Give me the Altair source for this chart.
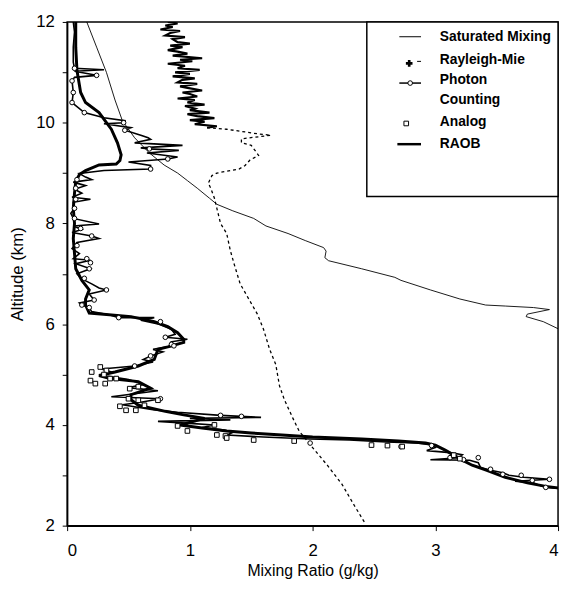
import altair as alt
import pandas as pd

# ---------------- data (altitude km, mixing ratio g/kg) ----------------
sat_alt = [12.0, 11.5, 11.0, 10.45, 10.04, 9.7, 9.4, 9.16, 9.0, 8.85, 8.7, 8.5, 8.38, 8.25, 8.1,
           7.95, 7.8, 7.66, 7.52, 7.45, 7.32, 7.26, 7.1, 6.93, 6.87, 6.68, 6.5, 6.38, 6.36, 6.33,
           6.29, 6.2, 6.15, 6.05, 5.91]
sat_mr = [0.16, 0.24, 0.32, 0.39, 0.45, 0.55, 0.67, 0.79, 0.9, 0.98, 1.06, 1.16, 1.22, 1.35, 1.52,
          1.62, 1.8, 1.94, 2.09, 2.11, 2.1, 2.13, 2.4, 2.67, 2.72, 2.96, 3.2, 3.41, 3.57, 3.8,
          3.93, 3.75, 3.74, 3.88, 4.0]

# Rayleigh-Mie: noisy upper band and sparse lower profile
rmb_alt = [12.0, 11.97, 11.93, 11.9, 11.85, 11.82, 11.78, 11.73, 11.7, 11.66, 11.6, 11.57, 11.53,
           11.5, 11.44, 11.41, 11.37, 11.33, 11.28, 11.25, 11.22, 11.17, 11.13, 11.08, 11.05, 11.0,
           10.97, 10.92, 10.88, 10.85, 10.8, 10.77, 10.72, 10.69, 10.64, 10.6, 10.57, 10.52, 10.48,
           10.45, 10.4, 10.36, 10.33, 10.28, 10.25, 10.2, 10.17, 10.13, 10.09, 10.05, 10.02, 9.97,
           9.93, 9.9]
rmb_mr = [0.82, 0.90, 0.80, 0.86, 0.76, 0.92, 0.84, 0.80, 0.96, 0.86, 0.90, 1.00, 0.84,
          0.94, 0.82, 0.90, 0.98, 0.86, 1.10, 0.92, 1.02, 0.82, 0.96, 0.90, 1.08, 0.88,
          1.00, 0.86, 1.04, 0.94, 0.90, 1.06, 0.92, 0.98, 1.10, 0.94, 1.00, 1.06, 0.90,
          1.04, 0.98, 1.12, 0.96, 1.04, 1.00, 1.16, 0.98, 1.06, 1.20, 1.00, 1.12, 1.04,
          1.22, 1.14]
rml_alt = [9.9, 9.87, 9.78, 9.75, 9.68, 9.6, 9.55, 9.42, 9.35, 9.26, 9.15, 9.08, 9.0, 8.95, 8.8,
           8.7, 8.5, 8.3, 8.0, 7.8, 7.46, 7.2, 6.8, 6.5, 6.2, 5.9, 5.5, 5.2, 4.78, 4.5, 4.13, 3.88,
           3.55, 3.2, 2.82, 2.4, 2.04]
rml_mr = [1.14, 1.3, 1.55, 1.66, 1.42, 1.42, 1.5, 1.54, 1.56, 1.49, 1.45, 1.4, 1.22, 1.18, 1.15,
          1.17, 1.2, 1.22, 1.25, 1.3, 1.33, 1.36, 1.41, 1.48, 1.55, 1.6, 1.65, 1.7, 1.73, 1.77, 1.84,
          1.89, 2.0, 2.12, 2.24, 2.34, 2.43]

raob_alt = [12.0, 11.5, 11.04, 10.6, 10.4, 10.2, 9.87, 9.6, 9.36, 9.25, 9.18, 9.16, 9.05, 8.97, 8.83,
            8.6, 8.3, 8.0, 7.7, 7.4, 7.1, 6.87, 6.68, 6.5, 6.38, 6.22, 6.15, 6.05, 5.95, 5.83, 5.7,
            5.64, 5.55, 5.5, 5.3, 5.17, 5.05, 4.98, 4.92, 4.86, 4.73, 4.6, 4.5, 4.39, 4.27, 4.2, 4.13,
            4.05, 4.0, 3.94, 3.88, 3.84, 3.8, 3.76, 3.72, 3.68, 3.64, 3.6, 3.5, 3.4, 3.3, 3.2, 3.1,
            2.96, 2.85, 2.78, 2.75]
raob_mr = [0.07, 0.07, 0.08, 0.11, 0.15, 0.26, 0.36, 0.41, 0.44, 0.43, 0.40, 0.26, 0.15, 0.10, 0.07,
           0.06, 0.05, 0.06, 0.05, 0.06, 0.07, 0.12, 0.18, 0.15, 0.15, 0.18, 0.52, 0.71, 0.82, 0.90, 0.95,
           0.95, 0.82, 0.74, 0.71, 0.58, 0.39, 0.26, 0.35, 0.58, 0.68, 0.52, 0.52, 0.58, 0.80, 0.95, 1.12,
           1.0, 0.92, 1.1, 1.3, 1.5, 1.75, 2.0, 2.4, 2.7, 2.92, 3.0, 3.08, 3.15, 3.22, 3.3, 3.42,
           3.57, 3.75, 3.9, 4.0]

pc_alt = [12.0, 11.8, 11.5, 11.2, 11.08, 11.05, 11.02, 10.94, 10.9, 10.83, 10.6, 10.4, 10.2, 10.1,
          10.04, 10.0, 9.98, 9.9, 9.85, 9.75, 9.7, 9.67, 9.6, 9.55, 9.5, 9.48, 9.45, 9.4, 9.32, 9.28,
          9.22, 9.15, 9.08, 9.05, 8.99, 8.92, 8.87, 8.82, 8.75, 8.68, 8.6, 8.52, 8.48, 8.42, 8.3, 8.2,
          8.1, 7.99, 7.95, 7.88, 7.82, 7.75, 7.7, 7.62, 7.5, 7.4, 7.3, 7.27, 7.2, 7.1, 7.0, 6.9, 6.8,
          6.72, 6.68, 6.6, 6.48, 6.42, 6.38, 6.33, 6.25, 6.18, 6.13, 6.13, 6.08, 6.0, 5.9, 5.8, 5.74,
          5.7, 5.65, 5.57, 5.5, 5.45, 5.37, 5.3, 5.25, 5.17, 5.11, 5.05, 4.98, 4.9, 4.8, 4.74, 4.68,
          4.62, 4.56, 4.52, 4.45, 4.4, 4.36, 4.3, 4.25, 4.19, 4.15, 4.13, 4.1, 4.07, 4.03, 4.0, 3.95,
          3.9, 3.85, 3.8, 3.76, 3.72, 3.7, 3.66, 3.64, 3.6, 3.55, 3.49, 3.45, 3.41, 3.35, 3.31, 3.3,
          3.25, 3.15, 3.1, 3.05, 3.0, 2.96, 2.92, 2.88, 2.85, 2.8, 2.76, 2.74]
pc_mr = [0.05, 0.06, 0.05, 0.05, 0.06, 0.30, 0.06, 0.24, 0.06, 0.04, 0.05, 0.04, 0.14, 0.3,
         0.47, 0.46, 0.3, 0.52, 0.47, 0.6, 0.66, 0.68, 0.55, 0.94, 0.6, 0.67, 0.91, 0.65, 0.9, 0.82,
         0.5, 0.68, 0.68, 0.3, 0.1, 0.15, 0.2, 0.05, 0.15, 0.06, 0.12, 0.04, 0.19, 0.05, 0.06, 0.03,
         0.05, 0.26, 0.05, 0.12, 0.04, 0.2, 0.26, 0.08, 0.04, 0.1, 0.05, 0.19, 0.07, 0.19, 0.08, 0.12, 0.2,
         0.26, 0.32, 0.18, 0.22, 0.1, 0.12, 0.18, 0.2, 0.35, 0.42, 0.71, 0.6, 0.75, 0.85, 0.88, 0.8,
         0.98, 0.85, 0.87, 0.7, 0.78, 0.68, 0.62, 0.7, 0.55, 0.28, 0.36, 0.3, 0.5, 0.62, 0.5, 0.74,
         0.55, 0.36, 0.76, 0.6, 0.45, 0.55, 0.7, 0.9, 1.25, 1.58, 1.0, 1.33, 0.74, 1.0, 1.2, 1.1,
         1.28, 1.35, 1.3, 1.6, 1.98, 2.3, 2.6, 2.85, 2.97, 3.0, 2.93, 3.12, 3.22, 3.19, 2.96, 3.28,
         3.35, 3.37, 3.45, 3.55, 3.6, 3.72, 3.93, 3.65, 3.8, 3.85, 3.9, 4.0]

pcpt_alt = [11.08, 10.94, 10.83, 10.6, 10.4, 10.2, 10.0, 9.85, 9.48, 9.28, 9.08, 8.87, 8.7, 8.48,
            8.3, 8.1, 7.9, 7.75, 7.56, 7.3, 7.22, 7.1, 6.91, 6.68, 6.48, 6.38, 6.33, 6.13, 6.05,
            5.74, 5.6, 5.57, 5.37, 5.17, 4.52, 4.19, 4.17, 3.64, 3.57, 3.59, 3.35, 3.31, 3.35,
            3.12, 3.02, 3.0, 2.9, 2.92, 2.76]
pcpt_mr = [0.06, 0.24, 0.04, 0.05, 0.04, 0.14, 0.46, 0.47, 0.67, 0.82, 0.68, 0.08, 0.07, 0.07,
           0.06, 0.06, 0.11, 0.2, 0.08, 0.16, 0.19, 0.18, 0.14, 0.32, 0.22, 0.12, 0.18, 0.42, 0.76,
           0.8, 0.85, 0.87, 0.68, 0.55, 0.76, 1.25, 1.42, 1.98, 2.72, 2.97, 3.12, 3.23, 3.35,
           3.45, 3.55, 3.7, 3.79, 3.93, 3.9]

an_alt = [5.15, 5.08, 5.05, 5.0, 4.92, 4.92, 4.88, 4.82, 4.82, 4.76, 4.72, 4.52, 4.49, 4.49,
          4.39, 4.37, 4.29, 4.29, 3.98, 3.88, 4.0, 3.8, 3.78, 3.74, 3.7, 3.68, 3.6, 3.59, 3.57,
          3.4, 3.33]
an_mr = [0.27, 0.32, 0.2, 0.3, 0.35, 0.4, 0.19, 0.23, 0.31, 0.58, 0.51, 0.5, 0.58, 0.74,
         0.63, 0.43, 0.48, 0.56, 0.9, 0.98, 1.2, 1.22, 1.29, 1.3, 1.52, 1.85, 2.48, 2.61, 2.73,
         3.15, 3.2]

legend_labels = ["Saturated Mixing", "Rayleigh-Mie", "Photon", "Counting", "Analog", "RAOB"]

FONT = "Liberation Sans"


def frame(alts, mrs):
    return pd.DataFrame({"alt": alts, "mr": mrs, "i": list(range(len(alts)))})


X = alt.X("mr:Q", scale=alt.Scale(domain=[0, 4], nice=False, zero=False),
          axis=alt.Axis(values=[0, 1, 2, 3, 4], title="Mixing Ratio (g/kg)", format="d",
                        labelPadding=12, titleX=249, titleY=46, titleBaseline="middle",
                        titleFontSize=16))
Y = alt.Y("alt:Q", scale=alt.Scale(domain=[2, 12], nice=False, zero=False),
          axis=alt.Axis(values=[2, 3, 4, 5, 6, 7, 8, 9, 10, 11, 12], title="Altitude (km)",
                        labelExpr="datum.value % 2 == 0 ? datum.label : ''", labelPadding=8,
                        titleX=-50, titleY=255.5, titleBaseline="middle", titleAlign="center"))
O = alt.Order("i:Q")

sat = alt.Chart(frame(sat_alt, sat_mr)).mark_line(color="black", strokeWidth=0.9, clip=True).encode(
    x=X, y=Y, order=O)
rmb = alt.Chart(frame(rmb_alt, rmb_mr)).mark_line(color="black", strokeWidth=2.2, clip=True).encode(
    x=X, y=Y, order=O)
rml = alt.Chart(frame(rml_alt, rml_mr)).mark_line(color="black", strokeWidth=1.3, strokeDash=[3, 3],
                                                  clip=True).encode(x=X, y=Y, order=O)
raob = alt.Chart(frame(raob_alt, raob_mr)).mark_line(color="black", strokeWidth=3, clip=True).encode(
    x=X, y=Y, order=O)
pc = alt.Chart(frame(pc_alt, pc_mr)).mark_line(color="black", strokeWidth=1.6, clip=True).encode(
    x=X, y=Y, order=O)
pcpt = alt.Chart(frame(pcpt_alt, pcpt_mr)).mark_point(shape="circle", filled=True, fill="white",
                                                      stroke="black", strokeWidth=1, size=22,
                                                      opacity=1).encode(x=X, y=Y)
an = alt.Chart(frame(an_alt, an_mr)).mark_point(shape="square", filled=True, fill="white",
                                                stroke="black", strokeWidth=1, size=22,
                                                opacity=1).encode(x=X, y=Y)

# ---------------- legend (manual) ----------------
one = pd.DataFrame({"k": [0]})
box = alt.Chart(one).mark_rect(fill="white", stroke="black", strokeWidth=1.5).encode(
    x=alt.value(304), x2=alt.value(498), y=alt.value(0), y2=alt.value(177))

label_y = [15, 39, 59, 79, 102, 124]
texts = []
for lab, yy in zip(legend_labels, label_y):
    texts.append(alt.Chart(pd.DataFrame({"t": [lab]})).mark_text(
        align="left", baseline="middle", font=FONT, fontSize=14, fontWeight="bold", color="black"
    ).encode(x=alt.value(378), y=alt.value(yy), text="t:N"))

sym_sat = alt.Chart(one).mark_rule(color="black", strokeWidth=1).encode(
    x=alt.value(337), x2=alt.value(359), y=alt.value(15))
sym_rm = alt.Chart(one).mark_point(shape="cross", filled=True, color="black", size=45, opacity=1).encode(
    x=alt.value(347), y=alt.value(42))
sym_rm2 = alt.Chart(one).mark_rule(color="black", strokeWidth=1).encode(
    x=alt.value(355), x2=alt.value(359), y=alt.value(40))
sym_pc = alt.Chart(one).mark_rule(color="black", strokeWidth=1.5).encode(
    x=alt.value(337), x2=alt.value(359), y=alt.value(62))
sym_pc2 = alt.Chart(one).mark_point(shape="circle", filled=True, fill="white", stroke="black",
                                    strokeWidth=1, size=22, opacity=1).encode(
    x=alt.value(348), y=alt.value(62))
sym_an = alt.Chart(one).mark_point(shape="square", filled=True, fill="white", stroke="black",
                                   strokeWidth=1, size=22, opacity=1).encode(
    x=alt.value(344), y=alt.value(103))
sym_raob = alt.Chart(one).mark_rule(color="black", strokeWidth=2.5).encode(
    x=alt.value(335), x2=alt.value(359), y=alt.value(124))

chart = alt.layer(
    sat, rmb, rml, raob, pc, pcpt, an, box, sym_sat, sym_rm, sym_rm2, sym_pc, sym_pc2, sym_an,
    sym_raob, *texts
).properties(
    width=498, height=511,
    autosize=alt.AutoSizeParams(type="none"),
    padding={"left": 60, "top": 10, "right": 3, "bottom": 53},
    background="white",
).configure_view(
    stroke="black", strokeWidth=1.5
).configure_axis(
    grid=False, domainColor="black", domainWidth=1.5, tickColor="black", tickSize=5,
    labelFont=FONT, labelFontSize=17, labelColor="black",
    titleFont=FONT, titleFontSize=17, titleColor="black", titleFontWeight="normal",
)

chart.save("out.html", embed_options={"renderer": "svg", "actions": False})
